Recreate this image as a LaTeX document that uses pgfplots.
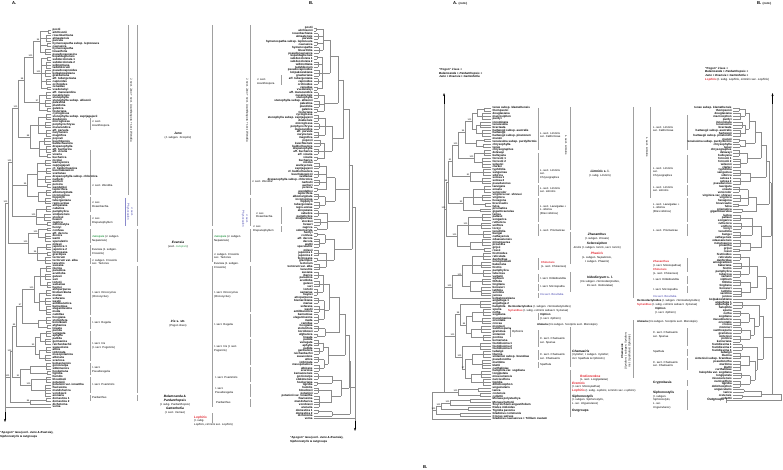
\documentclass[border=0pt]{standalone}
\usepackage{fontspec}
\setmainfont{Liberation Sans}
\usepackage{pgfplots}
\usepackage{pgfplotstable}
\pgfplotsset{compat=1.18}
\usetikzlibrary{arrows.meta}
\definecolor{treegray}{RGB}{140,140,140}
\definecolor{brgray}{RGB}{160,160,160}
\definecolor{myred}{RGB}{225,35,45}
\definecolor{mygreen}{RGB}{40,150,70}
\definecolor{myblue}{RGB}{60,60,170}
\newcommand\lf{\fontsize{2.9}{3}\selectfont\bfseries}
\newcommand\sfn{\fontsize{2.8}{3.7}\selectfont}
\newcommand\gf{\fontsize{3.2}{4}\selectfont}
\newcommand\spf{\fontsize{2.2}{2.4}\selectfont}
\tikzset{sec/.style={font=\sfn, inner sep=0pt, align=left, anchor=west},
  grp/.style={font=\gf, inner sep=0pt, align=center},
  brk/.style={draw=brgray, line width=0.35pt}}
\pgfplotsset{tl/.style={draw=treegray, line width=0.35pt, mark=none},
  labw/.style={draw=none, mark=none, nodes near coords, point meta=explicit symbolic,
    every node near coord/.append style={font=\lf, inner sep=0pt, anchor=west, text=black}},
  labe/.style={draw=none, mark=none, nodes near coords, point meta=explicit symbolic,
    every node near coord/.append style={font=\lf, inner sep=0pt, anchor=east, text=black}},
  supp/.style={draw=none, mark=none, nodes near coords, point meta=explicit symbolic,
    every node near coord/.append style={font=\spf, inner sep=0.2pt, anchor=south east, text=black}}}

% ---------- taxa of trees A / B ----------
\pgfplotstableread[col sep=comma]{
name,px
postii,48
aitchisonii,48
rosenbachiana,46
almaatensis,46
parvula,46
hymenospatha subsp. leptoneura,47
caucasica,47
hymenospatha,45
linearifolia,45
pseudocaucasica,45
kopetdaghensis,47
subdecolorata 1,47
subdecolorata 2,46
willmottiana,46
tadshikorum,46
pseudocapnoides,45
kolpakowskiana,45
graeberiana,45
aff. tubergeniana,46
capnoides,46
orchioides,46
zenaidae,47
vvedenskyi,47
aff. maracandica,46
nusairiensis,46
stenophylla,46
stenophylla subsp. allisonii,45
palestina,45
planifolia,45
galatica,47
fosteriana,47
cycloglossa,46
stenophylla subsp. zaprjagajevii,46
doabensis,46
microglossa,45
porphyrochrysa,45
maracandica,45
aff. parvula,46
narynensis,46
magnifica,46
popovii,44
kuschkensis,44
baldschuanica,44
drepanophylla,46
aff. bucharica,46
aff. vicaria,46
vicaria,47
bucharica,47
nicolai,45
warleyensis,45
zaprjagajevii,45
cf. baldschuanica,46
kuschakewiczii,46
svetlanae,46
drepanophylla subsp. chlorotica,45
narbutii,45
aucheri,45
persica,47
wendelboi,47
leptorrhiza,46
albomarginata,46
inconspicua,46
hippolyti,45
tubergeniana,45
regis-uzziae,45
atropatana,46
cabulica,46
pamphylica,46
sindjarensis,44
stocksii,44
heweri,44
zagrica,47
odontostyla,47
henryi,47
confusa,47
aff. decora,45
decora,45
wattii,45
speculatrix,45
milesii,46
japonica 1,46
japonica 2,46
formosana,47
gracilipes,47
tectorum,45
tectorum var. alba,45
lacustris,45
susiana,46
iberica,46
paradoxa,46
acutiloba,45
gatesii,45
sari,45
lortetii,47
samariae,47
haynei,47
atropurpurea,46
bismarckiana,46
mariae,46
sofarana,45
westii,45
antilibanotica,45
barnumiae,46
elegantissima,46
meda,46
camillae,46
hoogiana,46
stolonifera,46
korolkowii,46
afghanica,47
lineata,47
pumila,46
variegata,46
aphylla,46
pallida,45
germanica,45
reichenbachii,45
suaveolens,46
attica,46
imbricata,46
mesopotamica,45
albicans,45
scariosa,45
kemaonensis,46
goniocarpa,46
sikkimensis,46
hookeriana,47
tigridia,47
humilis,46
bloudowii,46
potaninii,46
potaninii var. ionantha,45
flavissima,45
mandshurica,45
vorobievii,45
arenaria,45
domestica 1,46
domestica 2,46
dichotoma,30
verna,5
}\LA

\pgfplotstableread{
x y1 y2 p
48 0 1 40
46 2 4 40
47 5 6 40
45 7 9 40
47 10 11 41
46 12 14 41
45 15 17 41
46 18 20 41
47 21 22 41
46 23 25 39
45 26 28 39
47 29 30 39
46 31 33 38
45 34 36 38
46 37 39 38
44 40 42 39
46 43 45 39
47 46 47 39
45 48 50 37
46 51 53 37
45 54 56 37
47 57 58 37
46 59 61 38
45 62 64 38
46 65 67 36
44 68 70 36
47 71 72 36
40 0.5 8 33
41 10.5 21.5 33
33 4.25 16 24
39 24 29.5 24
24 10.125 26.75 18
38 32 38 30
39 41 46.5 30
30 35 43.75 18
18 18.4375 39.375 12
37 49 57.5 27
38 60 63 27
27 53.25 61.5 12
36 66 71.5 12
12 28.906 68.75 8
47 73 74 38
45 75 78 38
46 79 81 37
47 82 83 37
45 84 86 37
38 73.5 76.5 28
37 80 85 28
28 75 82.5 8
8 48.828 78.75 5
46 87 89 40
45 90 92 40
47 93 95 40
46 96 98 39
45 99 101 39
46 102 105 39
40 88 94 34
39 97 103.5 34
34 91 100.25 22
46 106 108 38
47 109 110 38
38 107 109.5 22
22 95.625 108.25 16
46 111 113 40
45 114 116 40
46 117 119 39
45 120 122 39
40 112 115 35
39 118 121 35
35 113.5 119.5 16
16 101.94 116.5 12
46 123 125 30
47 126 127 30
30 124 126.5 20
46 128 130 31
45 131 135 31
31 129 133 20
20 125.25 131 12
12 109.22 128.125 10
46 136 137 30
30 136.5 138 10
10 118.67 137.25 5
}\NA

\pgfplotstableread{
x y lab
33 10.1 100
24 18.4 98
18 28.9 100
12 48.8 100
28 78.75 100
8 63.8 100
34 95.6 100
22 101.9 97
16 109.2 89
12 118.7 100
10 128 100
20 128.1 91
30 137.25 84
38 75 100
37 82.5 96
40 4.25 94
27 57.4 99
36 68.75 100
30 39.4 88
31 131 100
35 116.5 93
41 16 100
39 26.75 97
}\SA

% ---------- taxa of trees A (cont.) / B (cont.) ----------
\pgfplotstableread[col sep=comma]{
name,px
tenax subsp. klamathensis,484
thompsonii,484
douglasiana,482
macrosiphon,482
purdyi,482
innominata,480
tenuissima,480
bracteata,480
hartwegii subsp. australis,482
hartwegii,482
hartwegii subsp. pinetorum,482
munzii,484
tenuissima subsp. purdyiformis,484
chrysophylla,483
tenax,483
chrysographes,484
delavayi,484
bulleyana,484
forrestii 1,482
forrestii 2,482
wilsonii,482
clarkei,482
typhifolia,483
sanguinea,483
sibirica,483
setosa 1,482
setosa 2,482
pseudacorus,482
laevigata,484
ensata,484
versicolor,484
virginica var. shrevei,482
virginica,482
hexagona,482
brevicaulis,485
fulva,485
prismatica,480
giganticaerulea,480
lactea,482
pallasii,482
songarica,482
ruthenica,481
uniflora,481
loczyi,481
tenuifolia,483
bungei,483
cathayensis,483
odaesanensis,482
minutoaurea,482
proantha,482
grijsii,484
rossii,484
histrioides,483
reticulata,483
danfordiae,483
winogradowii,481
bakeriana,481
histrio,481
pamphylica,483
tuberosa,483
vartanii,483
xiphium,482
filifolia,482
tingitana,482
boissieri,481
latifolia,481
serotina,481
juncea,481
kolpakowskiana,452
anguifuga 1,480
anguifuga 2,480
halophila,480
spuria,483
notha,483
sogdiana,483
musulmanica,482
orientalis,482
crocea,482
monnieri,481
xanthospuria,481
graminea,481
sintenisii,483
pontica,483
kerneriana,483
foetidissima 1,480
foetidissima 2,480
foetidissima 3,480
ludwigii,483
lilacina,483
sintenisii subsp. brandzae,483
pseudonotha,482
maritima,482
klattii,482
carthaliniae,482
halophila var. sogdiana,481
longipetala,481
missouriensis,481
narcissiflora,483
tigridia,483
dolichosiphon,483
unguicularis,478
lazica,478
cretensis,480
collettii,480
Moraea polystachya,470
Moraea huttonii,470
Sisyrinchium angustifolium,450
Dietes iridioides,468
Tigridia pavonia,468
Gladiolus communis,460
Crocus sativus,460
Gladiolus caucasicus + Trillium ovatum,432
}\LC

\pgfplotstableread{
x y1 y2 p
484 0 1 477
482 2 4 477
480 5 7 476
482 8 10 476
484 11 12 476
483 13 14 476
477 0.5 3 472
476 6 9 472
472 1.75 7.5 465
476 11.5 13.5 465
465 4.625 12.5 458
484 15 17 474
482 18 21 474
474 16 19.5 458
458 8.5625 17.75 452
483 22 24 470
482 25 27 470
470 23 26 452
452 13.156 24.5 448
484 28 30 473
482 31 33 473
485 34 35 473
473 29 34.5 463
480 36 37 463
463 31.75 36.5 448
448 18.83 34.125 446
482 38 40 468
481 41 43 468
483 44 46 468
468 39 45 457
482 47 49 470
484 50 51 470
470 48 50.5 457
457 42 49.25 446
446 26.48 45.625 444
483 52 54 472
481 55 57 472
483 58 60 472
472 53 59 462
482 61 63 470
481 64 67 470
470 62 65.5 462
462 56 63.75 452
452 59.875 68 444
480 69 71 460
483 72 74 472
482 75 77 472
481 78 80 471
483 81 83 471
472 73 76 466
471 79 82 466
466 74.5 80.5 460
460 70 77.5 455
480 84 86 462
483 87 89 472
482 90 93 472
481 94 96 471
483 97 99 471
472 88 91.5 465
471 95 98 465
465 89.75 96.5 462
462 85 93.125 455
455 73.75 89.06 444
478 100 101 458
480 102 103 458
458 100.5 102.5 444
}\NC

\pgfplotstableread{
x y1 y2 p
470 104 105 450
450 104.5 106 441
468 107 108 441
441 105.25 107.5 436
460 109 110 436
436 106.375 109.5 432
}\NCo

\pgfplotstableread{
x y lab
472 4.6 100
465 8.6 96
458 13.2 100
452 18.8 81
448 26.5 98
446 36 100
463 34.1 92
457 45.6 100
468 42 100
462 59.9 100
452 63.9 100
460 73.75 98
466 77.5 84
455 81.4 100
462 89 100
465 93.1 97
458 101.5 100
450 105.25 100
441 106.4 100
436 107.9 100
474 17.75 100
470 24.5 81
}\SC

\begin{document}
\begin{tikzpicture}
\begin{axis}[width=783pt, height=470pt, scale only axis, xmin=0, xmax=783, ymin=0, ymax=470,
  y dir=reverse, axis lines=none, clip=false]
\addplot [draw=none, mark=none] coordinates {(0,0) (783,470)};

% ================= TREE A =================
\addplot [tl, quiver={u=0, v=2.71*(\thisrow{y2}-\thisrow{y1})}] table [x=x, y expr=30+2.71*\thisrow{y1}] {\NA};
\addplot [tl, quiver={u=\thisrow{p}-\thisrow{x}, v=0}] table [x=x, y expr=30+2.71*(\thisrow{y1}+\thisrow{y2})/2] {\NA};
\addplot [tl, quiver={u=51-\thisrow{px}, v=0}] table [x=px, y expr=30+2.71*\coordindex] {\LA};
\addplot [labw] table [x expr=52.5, y expr=30+2.71*\coordindex, meta=name] {\LA};
\addplot [supp] table [x expr=\thisrow{x}-0.3, y expr=30+2.71*\thisrow{y}-0.2, meta=lab] {\SA};
\addplot [tl] coordinates {(5,202.9) (5,412)};
\addplot [black, line width=0.4pt, -{Stealth[length=3pt,width=2pt]}] coordinates {(5,412) (5,422)};

% ================= TREE B =================
\addplot [tl, quiver={u=0, v=2.81*(\thisrow{y2}-\thisrow{y1})}] table [x expr=313.5+0.902*(51-\thisrow{x}), y expr=28+2.81*\thisrow{y1}] {\NA};
\addplot [tl, quiver={u=0.902*(\thisrow{x}-\thisrow{p}), v=0}] table [x expr=313.5+0.902*(51-\thisrow{x}), y expr=28+2.81*(\thisrow{y1}+\thisrow{y2})/2] {\NA};
\addplot [tl, quiver={u=-0.902*(51-\thisrow{px}), v=0}] table [x expr=313.5+0.902*(51-\thisrow{px}), y expr=28+2.81*\coordindex] {\LA};
\addplot [labe] table [x expr=312.8, y expr=28+2.81*\coordindex, meta=name] {\LA};
\addplot [tl] coordinates {(355,207.2) (355,421)};
\addplot [black, line width=0.4pt, -{Stealth[length=3pt,width=2pt]}] coordinates {(355,421) (355,431)};

% ================= TREE A (cont.) =================
\addplot [tl, quiver={u=0, v=2.8*(\thisrow{y2}-\thisrow{y1})}] table [x=x, y expr=108+2.8*\thisrow{y1}] {\NC};
\addplot [tl, quiver={u=\thisrow{p}-\thisrow{x}, v=0}] table [x=x, y expr=108+2.8*(\thisrow{y1}+\thisrow{y2})/2] {\NC};
\addplot [tl, quiver={u=0, v=2.8*(\thisrow{y2}-\thisrow{y1})}] table [x=x, y expr=108+2.8*\thisrow{y1}] {\NCo};
\addplot [tl, quiver={u=\thisrow{p}-\thisrow{x}, v=0}] table [x=x, y expr=108+2.8*(\thisrow{y1}+\thisrow{y2})/2] {\NCo};
\addplot [tl, quiver={u=491-\thisrow{px}, v=0}] table [x=px, y expr=108+2.8*\coordindex] {\LC};
\addplot [labw] table [x expr=492.5, y expr=108+2.8*\coordindex, meta=name] {\LC};
\addplot [supp] table [x expr=\thisrow{x}-0.3, y expr=108+2.8*\thisrow{y}-0.2, meta=lab] {\SC};
\addplot [tl] coordinates {(444,104) (444,392.2) (432,392.2) (432,418.8)};
\addplot [black, line width=0.4pt, -{Stealth[length=3pt,width=2pt]}] coordinates {(444,104) (444,93)};

% ================= TREE B (cont.) =================
\addplot [tl, quiver={u=0, v=2.816*(\thisrow{y2}-\thisrow{y1})}] table [x expr=733+0.84*(491-\thisrow{x}), y expr=108+2.816*\thisrow{y1}] {\NC};
\addplot [tl, quiver={u=0.84*(\thisrow{x}-\thisrow{p}), v=0}] table [x expr=733+0.84*(491-\thisrow{x}), y expr=108+2.816*(\thisrow{y1}+\thisrow{y2})/2] {\NC};
\addplot [tl, skip coords between index={104}{112}, quiver={u=-0.84*(491-\thisrow{px}), v=0}] table [x expr=733+0.84*(491-\thisrow{px}), y expr=108+2.816*\coordindex] {\LC};
\addplot [labe, skip coords between index={104}{112}] table [x expr=731.8, y expr=108+2.816*\coordindex, meta=name] {\LC};
\addplot [tl] coordinates {(772.5,104) (772.5,393.8) (781,393.8) (781,400) (727,400)};
\addplot [tl] coordinates {(726,397.5) (726,402.5)};
\addplot [black, line width=0.4pt, -{Stealth[length=3pt,width=2pt]}] coordinates {(772.5,104) (772.5,93)};

% ================= bracket lines =================
\addplot [brk, unbounded coords=jump] coordinates {
(137,25) (137,226) (nan,nan) (137,229) (137,262) (nan,nan) (137,266) (137,393) (nan,nan) (137,395) (137,401) (nan,nan)
(128,25) (128,195) (nan,nan)
(90,118) (90,130) (nan,nan) (90,150) (90,195) (nan,nan) (90,197) (90,212) (nan,nan) (90,215) (90,226) (nan,nan)
(90,229) (90,243) (nan,nan) (90,245) (90,256) (nan,nan) (90,258) (90,264) (nan,nan) (90,266) (90,315) (nan,nan)
(90,317) (90,329) (nan,nan) (90,331) (90,361) (nan,nan) (90,363) (90,375) (nan,nan) (90,377) (90,393) (nan,nan) (90,395) (90,401) (nan,nan)
(212,25) (212,226) (nan,nan) (212,229) (212,262) (nan,nan) (212,266) (212,407) (nan,nan) (212,413) (212,423) (nan,nan)
(250,25) (250,195) (nan,nan) (250,198) (250,226) (nan,nan) (250,229) (250,262) (nan,nan) (250,266) (250,312) (nan,nan)
(250,314) (250,337) (nan,nan) (250,339) (250,365) (nan,nan) (250,367) (250,382) (nan,nan) (250,384) (250,397) (nan,nan) (250,399) (250,407) (nan,nan)
(281,75) (281,85) (nan,nan) (281,207) (281,224) (nan,nan) (281,226) (281,232) (nan,nan)
(538,108) (538,150) (nan,nan) (538,153) (538,183) (nan,nan) (538,185) (538,196) (nan,nan) (538,198) (538,222) (nan,nan) (538,224) (538,236) (nan,nan)
(538,258) (538,270) (nan,nan) (538,274) (538,282) (nan,nan) (538,284) (538,291) (nan,nan) (538,293) (538,298) (nan,nan)
(538,313) (538,320) (nan,nan) (538,330) (538,347) (nan,nan) (538,350) (538,360) (nan,nan) (538,362) (538,368) (nan,nan)
(570,107) (570,230) (nan,nan) (570,232) (570,264) (nan,nan) (570,272) (570,292) (nan,nan) (570,327) (570,367) (nan,nan) (570,370) (570,417) (nan,nan)
(510,328) (510,337) (nan,nan)
(633,107) (633,298) (nan,nan) (633,320) (633,378) (nan,nan)
(650,107) (650,198) (nan,nan)
(687,115) (687,150) (nan,nan) (687,155) (687,183) (nan,nan) (687,185) (687,196) (nan,nan) (687,198) (687,222) (nan,nan) (687,224) (687,236) (nan,nan)
(687,258) (687,272) (nan,nan) (687,276) (687,284) (nan,nan) (687,286) (687,293) (nan,nan) (687,328) (687,346) (nan,nan)
(687,349) (687,356) (nan,nan) (687,358) (687,370) (nan,nan) (687,380) (687,386) (nan,nan) (687,390) (687,410)
};
\addplot [draw=myblue!60, line width=0.35pt] coordinates {(125,198) (125,226)};

% ================= panel letters =================
\node[font=\fontsize{4.2}{5}\selectfont\bfseries, anchor=west, inner sep=0pt] at (12,3.5) {A.};
\node[font=\fontsize{4.2}{5}\selectfont\bfseries, anchor=west, inner sep=0pt] at (309,3.5) {B.};
\node[font=\fontsize{4.2}{5}\selectfont\bfseries, anchor=west, inner sep=0pt] at (453,3.5) {A. {\fontsize{2.9}{3}\selectfont (cont.)}};
\node[font=\fontsize{4.2}{5}\selectfont\bfseries, anchor=west, inner sep=0pt] at (757,3.5) {B. {\fontsize{2.9}{3}\selectfont (cont.)}};
\node[font=\fontsize{4.2}{5}\selectfont\bfseries, anchor=west, inner sep=0pt] at (423,467) {B.};

% ================= Tree A section labels =================
\node[sec] at (92,124) {J. sect.\\Acanthospora};
\node[sec] at (92,185) {J. sect. Wendtia};
\node[sec] at (92,204.5) {J. sec.\\Rosenbachia};
\node[sec] at (92,221) {J. sec.\\Drepanophyllum};
\node[sec] at (92,239) {\textcolor{mygreen}{\textbf{Junopsis}} (J. subgen.\\Nepalensis)};
\node[sec] at (92,252) {Evansia (J. subgen.\\Crossiris)};
\node[sec] at (92,262) {J. subgen. Crossiris\\sec. Tectores};
\node[sec] at (92,295) {I. sect. Oncocyclus\\(Oncocyclus)};
\node[sec] at (92,323) {I. sect. Regelia};
\node[sec] at (92,346) {I. sect. Iris\\(I. sect. Pogoniris)};
\node[sec] at (92,370) {I. sect.\\Pseudoregelia};
\node[sec] at (92,384) {I. sect. Psammiris};
\node[sec] at (92,397.5) {Pardanthus};
\node[font=\sfn, inner sep=0pt, rotate=-90] at (131,110) {J. sect. Juno + sect. Acanthospora + sect. Wendtia};
\node[font=\sfn, inner sep=0pt, rotate=-90, text=myblue, align=center] at (130,212) {J. sect.\\Physocaulon};

% ================= shared group labels =================
\node[grp] at (178,135.5) {\textbf{\textit{Juno}}\\{\sfn (J. subgen. \textit{Scorpiris})}};
\node[grp] at (178,245) {\textbf{\textit{Evansia}}\\{\sfn (excl. \textcolor{mygreen}{\textit{Junopsis}})}};
\node[grp] at (178,324) {\textbf{\textit{Iris} s. str.}\\{\sfn (Pogon irises)}};
\node[grp] at (175,405) {\textbf{\textit{Belamcanda} \&}\\\textbf{\textit{Pardanthopsis}}\\{\sfn (I. subg. \textit{Pardanthopsis})}\\\textbf{\textit{Gattenhofia}}\\{\sfn (I. sect. \textit{Vernae})}};
\node[sec] at (194,421) {\textcolor{myred}{\fontsize{3.2}{4}\selectfont\textbf{\textit{Lophiris}}}\\(I. subg.\\\textit{Lophiris}, \textit{Limniris} sec. \textit{Lophiris})};

\node[font=\fontsize{2.9}{3.8}\selectfont\bfseries, inner sep=0pt, align=left, anchor=west] at (0,435) {“Apogon” taxa (excl. \textit{Juno} \& \textit{Evansia}),\\\textit{Siphonostylis} \& outgroups};
\node[font=\fontsize{2.9}{3.8}\selectfont\bfseries, inner sep=0pt, align=left, anchor=west] at (290,439.5) {“Apogon” taxa (excl. \textit{Juno} \& \textit{Evansia}),\\\textit{Siphonostylis} \& outgroups};

% ================= Tree B section labels =================
\node[sec] at (257,82) {J. sect.\\Acanthospora};
\node[font=\sfn, inner sep=0pt, rotate=-90] at (247,110) {J. sect. Juno + sect. Acanthospora + sect. Wendtia};
\node[sec] at (252,182) {J. sect. Wendtia};
\node[font=\sfn, inner sep=0pt, rotate=-90, text=myblue, align=center] at (245,219) {J. sect.\\Physocaulon};
\node[sec] at (256,215) {J. sec.\\Rosenbachia};
\node[sec] at (253,228.5) {J. sec.\\Drepanophyllum};
\node[sec] at (214,239) {\textcolor{mygreen}{\textbf{Junopsis}} (J. subgen.\\Nepalensis)};
\node[sec] at (214,256) {J. subgen. Crossiris\\sec. Tectores};
\node[sec] at (214,266) {Evansia (J. subgen.\\Crossiris)};
\node[sec] at (214,295) {I. sect. Oncocyclus\\(Oncocyclus)};
\node[sec] at (214,325) {I. sect. Regelia};
\node[sec] at (214,349) {I. sect. Iris (I. sect.\\Pogoniris)};
\node[sec] at (215,377) {I. sect. Psammiris};
\node[sec] at (215,391) {I. sect.\\Pseudoregelia};
\node[sec] at (216,402) {Pardanthus};

% ================= Tree A (cont.) labels =================
\node[font=\fontsize{2.9}{3.5}\selectfont\bfseries, inner sep=0pt, align=left, anchor=west] at (439,73) {“Pogon” irises +\\\textit{Belamcanda} + \textit{Pardanthopsis} +\\\textit{Juno} + \textit{Evansia} + \textit{Gattenhofia}};
\node[sec] at (540,135) {L. sect. Limniris\\ser. Californicae};
\node[font=\sfn, inner sep=0pt, rotate=-90] at (566,145) {L. sect. Limniris};
\node[sec] at (540,174) {L. sect. Limniris\\ser.\\Chrysographes};
\node[sec] at (540,190) {L. sect. Limniris\\ser. Limniris};
\node[sec] at (540,210) {L. sect. Laevigatae +\\L. sibirica\\(Brevi sibirica)};
\node[sec] at (540,230) {L. sect. Prismaticae};
\node[sec] at (541,264.5) {\textcolor{myred}{\textbf{Chinensis}}\\(L. sect. Chinenses)};
\node[sec] at (540,278) {I. sect. Hildebrandtia};
\node[sec] at (540,287) {I. sect. Microspatha};
\node[sec] at (540,294) {\textcolor{myblue}{Iris sect. Brevituba}};
\node[sec] at (508,307) {\textbf{Hermodactyloides} (I. subgen. \textit{Hermodactyloides})};
\node[sec] at (508,311) {\textcolor{myred}{\textbf{Syrianthus}} (I. subg. \textit{Limniris} subsect. \textit{Syriacae})};
\node[sec] at (540,316.5) {\textbf{Xiphion}\\(I. sect. \textit{Xiphion})};
\node[sec] at (537,325) {\textbf{Alatavia} (Iris subgen. Scorpiris sect. Monolepis)};
\node[sec] at (512,332) {Ophioiris};
\node[sec] at (540,341) {C. sect. Chamaeiris\\ser. Spuriae};
\node[sec] at (540,356.5) {C. sect. Chamaeiris\\ser. Chamaeiris};
\node[sec] at (540,365) {Spathula};
\node[grp] at (600,174) {\textbf{\textit{Limniris} s. l.}\\{\sfn (I. subg. \textit{Limniris})}};
\node[grp] at (597,237) {\textbf{\textit{Zhaoanthus}}\\{\sfn (I. subgen. \textit{Ensata})}};
\node[grp] at (597,246) {\textbf{\textit{Sclerosiphon}}\\{\sfn \textit{Joniris} (I. subgen. \textit{Ioniris}, sect. \textit{Ioniris})}};
\node[grp] at (597,257.5) {\textcolor{myred}{\textbf{\textit{Phaeiris}}}\\{\sfn (L. subgen. \textit{Nepalensis},}\\{\sfn I. subgen. \textit{Phaeiris})}};
\node[grp] at (600,282) {\textbf{\textit{Iridodictyum} s. l.}\\{\sfn (Iris subgen. \textit{Hermodactyloides},}\\{\sfn Iris sect. \textit{Reticulatae})}};
\node[sec] at (572,355) {{\gf\textbf{\textit{Chamaeiris}}}\\(\textit{Xyridion}; I. subgen. \textit{Xyridion};\\incl. \textit{Spathula} \& \textit{Ophioiris})};
\node[sec] at (580,378) {\textcolor{myred}{\gf\textbf{\textit{Rodionenkoa}}}\\(L. sect. \textit{Longipetalae})};
\node[sec] at (572,385) {\textcolor{myred}{\gf\textbf{\textit{Eremiris}}}\\(I. sect. \textit{Monospathae})};
\node[sec] at (572,391) {\textcolor{myred}{\gf\textbf{\textit{Lophiris}}} (I. subg. \textit{Lophiris}, \textit{Limniris} sec. \textit{Lophiris})};
\node[sec] at (572,400) {{\gf\textbf{\textit{Siphonostylis}}}\\(I. subgen. \textit{Siphonostylis},\\L. ser. \textit{Unguiculares})};
\node[sec] at (572,411) {{\gf\textbf{Outgroups}}};

% ================= Tree B (cont.) labels =================
\node[font=\fontsize{2.9}{3.6}\selectfont\bfseries, inner sep=0pt, align=left, anchor=west] at (705,74) {“Pogon” irises +\\\textit{Belamcanda} + \textit{Pardanthopsis} +\\\textit{Juno} + \textit{Evansia} + \textit{Gattenhofia} +\\\textcolor{myred}{\textit{Lophiris}} {\mdseries (I. subg. \textit{Lophiris}, \textit{Limniris} sec. \textit{Lophiris})}};
\node[sec] at (653,129) {L. sect. Limniris\\ser. Californicae};
\node[font=\sfn, inner sep=0pt, rotate=-90] at (647,147) {L. sect. Limniris};
\node[sec] at (653,172) {L. sect. Limniris\\ser.\\Chrysographes};
\node[sec] at (653,189) {L. sect. Limniris\\ser. Limniris};
\node[sec] at (653,208) {L. sect. Laevigatae +\\L. sibirica\\(Brevi sibirica)};
\node[sec] at (653,230) {L. sect. Prismaticae};
\node[sec] at (653,264) {\textcolor{myred}{\textbf{Zhaoanthus}}\\(I. sect. Monospathae)};
\node[sec] at (653,271.5) {\textcolor{myred}{\textbf{Chinensis}}\\(L. sect. Chinenses)};
\node[sec] at (653,279) {I. sect. Hildebrandtia};
\node[sec] at (653,290) {I. sect. Microspatha};
\node[sec] at (653,296) {\textcolor{myblue}{Iris sect. Brevituba}};
\node[sec] at (637,300.5) {\textbf{Hermodactyloides} (I. subgen. \textit{Hermodactyloides})};
\node[sec] at (637,305) {\textcolor{myred}{\textbf{Syrianthus}} (I. subg. \textit{Limniris} subsect. \textit{Syriacae})};
\node[sec] at (655,311) {\textbf{Xiphion}\\(I. sect. \textit{Xiphion})};
\node[sec] at (637,322) {\textbf{Alatavia} (Iris subgen. Scorpiris sect. Monolepis)};
\node[sec] at (653,335) {C. sect. Chamaeiris\\ser. Spuriae};
\node[sec] at (653,352) {Spathula};
\node[sec] at (653,364) {C. sect. Chamaeiris\\ser. Chamaeiris};
\node[sec] at (653,383) {{\gf\textbf{Cryptobasis}}};
\node[sec] at (653,400) {{\gf\textbf{Siphonostylis}}\\(I. subgen.\\\textit{Siphonostylis},\\L. ser.\\\textit{Unguiculares})};
\node[font=\sfn, inner sep=0pt, rotate=90, align=center] at (626,351) {\textbf{\textit{Chamaeiris}}\\(\textit{Xyridion}; I. subgen. \textit{Xyridion};\\incl. \textit{Spathula} \& \textit{Ophioiris})};
\node[font=\gf\bfseries, inner sep=0pt, anchor=east] at (724,400) {Outgroups};
\end{axis}
\end{tikzpicture}
\end{document}
